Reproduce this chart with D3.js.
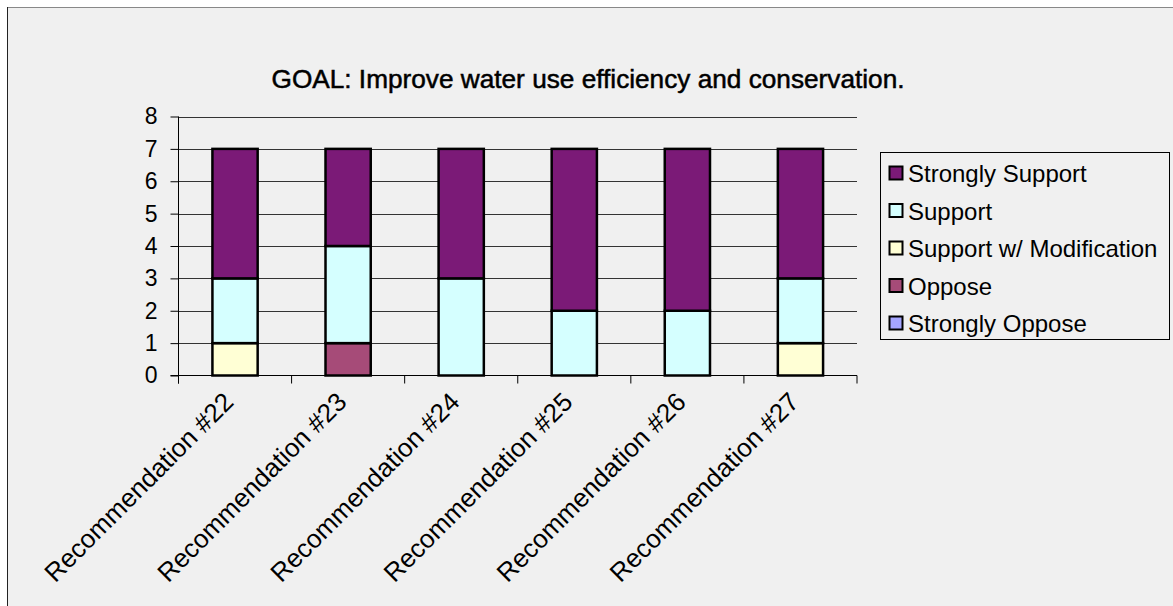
<!DOCTYPE html>
<html><head><meta charset="utf-8">
<script src="https://cdn.jsdelivr.net/npm/d3@7"></script>
<style>html,body{margin:0;padding:0;background:#fff;}svg{display:block;font-family:"Liberation Sans",Arial,sans-serif;}</style>
</head><body>
<svg id="c" width="1173" height="606"></svg>
<script>
const categories = ["Recommendation #22","Recommendation #23","Recommendation #24","Recommendation #25","Recommendation #26","Recommendation #27"];
const seriesNames = ["Strongly Support","Support","Support w/ Modification","Oppose","Strongly Oppose"];
const stronglySupport = [4,3,4,5,5,4];
const support = [2,3,3,2,2,2];
const supportMod = [1,0,0,0,0,1];
const oppose = [0,1,0,0,0,0];
const stronglyOppose = [0,0,0,0,0,0];
const colors = ["#7B1A77","#D5FFFF","#FFFFD5","#A64B78","#A5A5FF"];
const yTicks = [0,1,2,3,4,5,6,7,8];
const title = "GOAL: Improve water use efficiency and conservation.";

const svg = d3.select("#c");
svg.append("rect").attr("x",7).attr("y",7).attr("width",1166).attr("height",599).attr("fill","#f0f0f0");
svg.append("line").attr("x1",7).attr("x2",1173).attr("y1",7.5).attr("y2",7.5).attr("stroke","#888");
svg.append("line").attr("x1",7.5).attr("x2",7.5).attr("y1",7).attr("y2",606).attr("stroke","#222");

const x0 = 178.5, x1 = 857, yb = 375.5, yt = 116.5;
const x = d3.scaleBand().domain(categories).range([x0,x1]).paddingInner(0.6).paddingOuter(0.3);
const xc = d3.scaleBand().domain(categories).range([x0,x1]);
const y = d3.scaleLinear().domain([0,8]).range([yb,yt]);

// gridlines
svg.append("g").selectAll("line").data(yTicks.filter(d=>d>0)).join("line")
  .attr("x1",x0).attr("x2",x1).attr("y1",d=>Math.round(y(d))+0.5).attr("y2",d=>Math.round(y(d))+0.5)
  .attr("stroke","#333").attr("stroke-width",1);

// stacked data
const rows = categories.map((c,i)=>({cat:c, "Strongly Support":stronglySupport[i], "Support":support[i], "Support w/ Modification":supportMod[i], "Oppose":oppose[i], "Strongly Oppose":stronglyOppose[i]}));
const stackOrder = seriesNames.slice().reverse();
const stack = d3.stack().keys(stackOrder)(rows);
const color = d3.scaleOrdinal().domain(seriesNames).range(colors);

stack.forEach(layer=>{
  svg.append("g").selectAll("rect").data(layer.filter(d=>d[1]-d[0]>0)).join("rect")
    .attr("x",d=>x(d.data.cat)).attr("width",x.bandwidth())
    .attr("y",d=>y(d[1])).attr("height",d=>y(d[0])-y(d[1]))
    .attr("fill",color(layer.key)).attr("stroke","#000").attr("stroke-width",2.5);
});

// y axis
const ya = svg.append("g").attr("transform",`translate(${x0},0)`)
  .call(d3.axisLeft(y).tickValues(yTicks).tickSize(8).tickPadding(13).tickFormat(d3.format("d")));
ya.select(".domain").attr("d",`M0,${yt}V${yb+8}`).attr("stroke","#000");
ya.selectAll(".tick line").attr("stroke","#000");
ya.selectAll(".tick text").attr("font-size",23).attr("fill","#000").attr("font-family","Liberation Sans, Arial, sans-serif");

// x axis
const xa = svg.append("g").attr("transform",`translate(0,${yb})`);
xa.append("line").attr("x1",x0-8).attr("x2",x1).attr("y1",0).attr("y2",0).attr("stroke","#000");
const bounds = categories.map(c=>xc(c)).concat([x1]);
xa.selectAll("line.t").data(bounds).join("line").attr("class","t")
  .attr("x1",d=>d).attr("x2",d=>d).attr("y1",0).attr("y2",8).attr("stroke","#000");
xa.selectAll("text").data(categories).join("text")
  .attr("transform",d=>`translate(${xc(d)+xc.bandwidth()/2},${28}) rotate(-45)`)
  .attr("text-anchor","end").attr("font-size",26).attr("fill","#000").text(d=>d);

// title
svg.append("text").attr("x",588).attr("y",88).attr("text-anchor","middle")
  .attr("font-size",25).attr("fill","#000").attr("stroke","#000").attr("stroke-width",0.5)
  .attr("textLength",633).attr("lengthAdjust","spacingAndGlyphs").text(title);

// legend
const lg = svg.append("g");
lg.append("rect").attr("x",880.5).attr("y",152.5).attr("width",289).attr("height",187).attr("fill","#f0f0f0").attr("stroke","#000");
const items = lg.selectAll("g.item").data(seriesNames).join("g").attr("class","item")
  .attr("transform",(d,i)=>`translate(889,${174+i*37.5})`);
items.append("rect").attr("x",0.5).attr("y",-7.5).attr("width",13).attr("height",13)
  .attr("fill",d=>color(d)).attr("stroke","#000").attr("stroke-width",2);
items.append("text").attr("x",19).attr("y",0).attr("dy","0.35em").attr("font-size",24).attr("fill","#000").text(d=>d);
</script>
</body></html>
